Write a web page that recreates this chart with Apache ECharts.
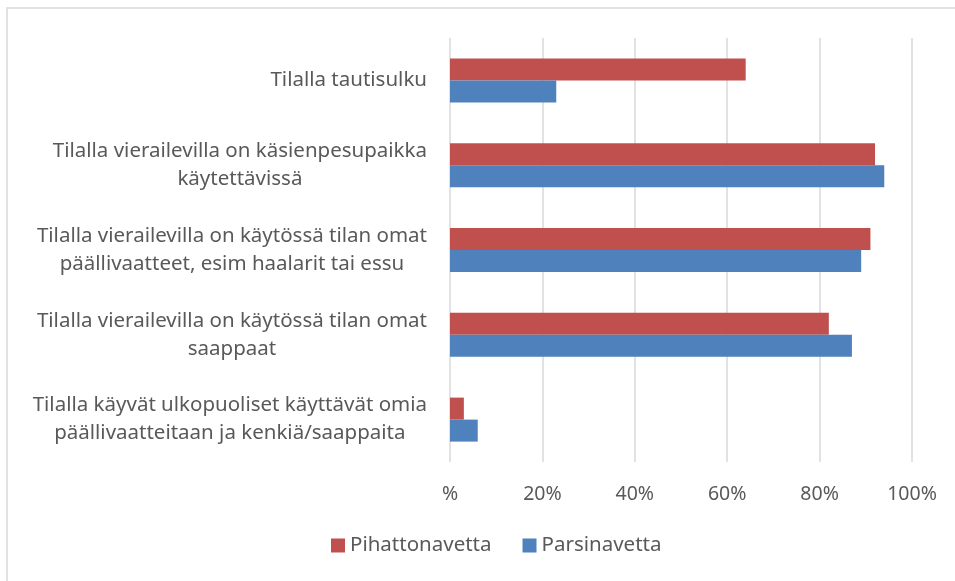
<!DOCTYPE html>
<html>
<head>
<meta charset="utf-8">
<script src="https://cdn.jsdelivr.net/npm/echarts@6/dist/echarts.min.js"></script>
<style>
  html, body { margin: 0; padding: 0; background: #fff; }
  #main { width: 955px; height: 581px; }
</style>
</head>
<body>
<div id="main"></div>
<script>
// kategoriat ylhäältä alas
var categories = [
  'Tilalla tautisulku',
  'Tilalla vierailevilla on käsienpesupaikka\nkäytettävissä',
  'Tilalla vierailevilla on käytössä tilan omat\npäällivaatteet, esim haalarit tai essu',
  'Tilalla vierailevilla on käytössä tilan omat\nsaappaat',
  'Tilalla käyvät ulkopuoliset käyttävät omia\npäällivaatteitaan ja kenkiä/saappaita'
];
var pihattonavetta = [64, 92, 91, 82, 3];
var parsinavetta = [23, 94, 89, 87, 6];
var seriesNames = ['Pihattonavetta', 'Parsinavetta'];

var chart = echarts.init(document.getElementById('main'));

var option = {
  animation: false,
  textStyle: { fontFamily: 'Noto Sans' },
  graphic: [{
    type: 'rect',
    shape: { x: 7, y: 8, width: 960, height: 600 },
    style: { fill: 'none', stroke: '#d9d9d9', lineWidth: 1.5 },
    silent: true
  }],
  grid: { left: 450, right: 43, top: 38, bottom: 119 },
  legend: {
    bottom: 20,
    left: 326,
    itemWidth: 14,
    itemHeight: 14,
    itemGap: 31,
    icon: 'rect',
    textStyle: { color: '#595959', fontSize: 20.5 },
    data: seriesNames
  },
  xAxis: {
    type: 'value',
    min: 0,
    max: 100,
    interval: 20,
    axisLine: { show: false },
    axisTick: { show: false },
    splitLine: { lineStyle: { color: '#d9d9d9', width: 1.5 } },
    axisLabel: {
      color: '#595959',
      fontSize: 19.5,
      margin: 22,
      formatter: function (v) { return v === 0 ? '%' : v + '%'; }
    }
  },
  yAxis: {
    type: 'category',
    inverse: true,
    data: categories,
    axisLine: { show: false },
    axisTick: { show: false },
    axisLabel: {
      color: '#595959',
      fontSize: 20.5,
      margin: 23,
      lineHeight: 28,
      formatter: function (v) {
        return v.split('\n').map(function (s) { return '{c|' + s + '}'; }).join('\n');
      },
      rich: {
        c: { align: 'center', color: '#595959', fontSize: 20.5, lineHeight: 28 }
      }
    }
  },
  series: [{
    name: seriesNames[0],
    type: 'bar',
    data: pihattonavetta,
    barWidth: 22,
    barGap: '0%',
    itemStyle: { color: '#C0504D' }
  }, {
    name: seriesNames[1],
    type: 'bar',
    data: parsinavetta,
    barWidth: 22,
    barGap: '0%',
    itemStyle: { color: '#4F81BD' }
  }]
};

chart.setOption(option);
</script>
</body>
</html>
